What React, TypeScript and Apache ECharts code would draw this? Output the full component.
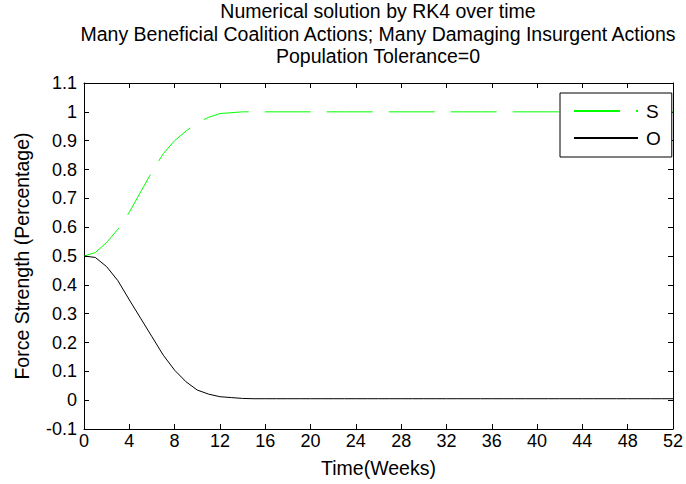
import React, { useEffect, useRef } from "react";
import * as echarts from "echarts";

// Weeks 0..52
const weeks: number[] = Array.from({ length: 53 }, (_, i) => i);

// S: coalition-supporting fraction, weekly samples
const sHead: number[] = [0.5, 0.512, 0.547, 0.593, 0.652, 0.722, 0.792, 0.855, 0.9, 0.933, 0.962, 0.981, 0.994, 0.997, 1.0];
// O: opposing fraction, weekly samples
const oHead: number[] = [0.5, 0.495, 0.463, 0.414, 0.348, 0.284, 0.22, 0.156, 0.104, 0.064, 0.035, 0.021, 0.012, 0.009, 0.006];

const sTail = 1.0;
const oTail = 0.005;

const sValues: number[] = weeks.map((w) => (w < sHead.length ? sHead[w] : sTail));
const oValues: number[] = weeks.map((w) => (w < oHead.length ? oHead[w] : oTail));

const titleLines: string[] = [
  "Numerical solution by RK4 over time",
  "Many Beneficial Coalition Actions; Many Damaging Insurgent Actions",
  "Population Tolerance=0",
];

const FONT = "'Liberation Sans', Arial, sans-serif";

export default function App() {
  const ref = useRef<HTMLDivElement>(null);

  useEffect(() => {
    if (!ref.current) return;
    const chart = echarts.init(ref.current, null, { renderer: "svg" });

    const fmtY = (v: number) => String(parseFloat(v.toFixed(1)));
    const tickStyle = { show: true, inside: true, length: 5, lineStyle: { color: "#000", width: 1 } };
    const lineAx = { show: true, onZero: false, lineStyle: { color: "#000", width: 1 } };

    chart.setOption({
      animation: false,
      backgroundColor: "#fff",
      textStyle: { fontFamily: FONT, color: "#000" },
      title: {
        text: titleLines.join("\n"),
        left: 378,
        top: 0,
        padding: 0,
        textAlign: "center",
        textStyle: { fontFamily: FONT, fontSize: 19.5, fontWeight: "normal", color: "#000", lineHeight: 22.5 },
      },
      grid: { left: 84, right: 9, top: 83, bottom: 55 },
      legend: {
        left: 560,
        top: 93,
        orient: "vertical",
        itemWidth: 64,
        itemHeight: 14,
        itemGap: 5,
        padding: [7, 11, 8, 13],
        borderColor: "#000",
        borderWidth: 1,
        backgroundColor: "#fff",
        itemStyle: { opacity: 0 },
        textStyle: { fontFamily: FONT, fontSize: 19, lineHeight: 22, color: "#000", padding: [0, 0, 0, 3] },
        data: ["S", "O"],
      },
      xAxis: [
        {
          type: "value",
          min: 0,
          max: 52,
          interval: 4,
          name: "Time(Weeks)",
          nameLocation: "middle",
          nameGap: 29,
          nameTextStyle: { fontFamily: FONT, fontSize: 19.5, color: "#000" },
          axisLine: lineAx,
          axisTick: tickStyle,
          axisLabel: { fontFamily: FONT, fontSize: 18, color: "#000", margin: 3 },
          splitLine: { show: false },
        },
        {
          type: "value",
          position: "top",
          min: 0,
          max: 52,
          interval: 4,
          axisLine: lineAx,
          axisTick: tickStyle,
          axisLabel: { show: false },
          splitLine: { show: false },
        },
      ],
      yAxis: [
        {
          type: "value",
          min: -0.1,
          max: 1.1,
          interval: 0.1,
          name: "Force Strength (Percentage)",
          nameLocation: "middle",
          nameGap: 52,
          nameTextStyle: { fontFamily: FONT, fontSize: 19.5, color: "#000" },
          axisLine: lineAx,
          axisTick: tickStyle,
          axisLabel: { fontFamily: FONT, fontSize: 18, color: "#000", margin: 7, formatter: fmtY },
          splitLine: { show: false },
        },
        {
          type: "value",
          position: "right",
          min: -0.1,
          max: 1.1,
          interval: 0.1,
          axisLine: lineAx,
          axisTick: tickStyle,
          axisLabel: { show: false },
          splitLine: { show: false },
        },
      ],
      series: [
        {
          name: "S",
          type: "line",
          data: weeks.map((w, i) => [w, sValues[i]]),
          symbol: "none",
          lineStyle: { color: "#00ff00", width: 1, type: [46, 16] },
          itemStyle: { color: "#00ff00" },
        },
        {
          name: "O",
          type: "line",
          data: weeks.map((w, i) => [w, oValues[i]]),
          symbol: "none",
          lineStyle: { color: "#000", width: 1 },
          itemStyle: { color: "#000" },
        },
      ],
    });

    return () => chart.dispose();
  }, []);

  return <div ref={ref} style={{ width: 686, height: 484, position: "absolute", left: 0, top: 0 }} />;
}
